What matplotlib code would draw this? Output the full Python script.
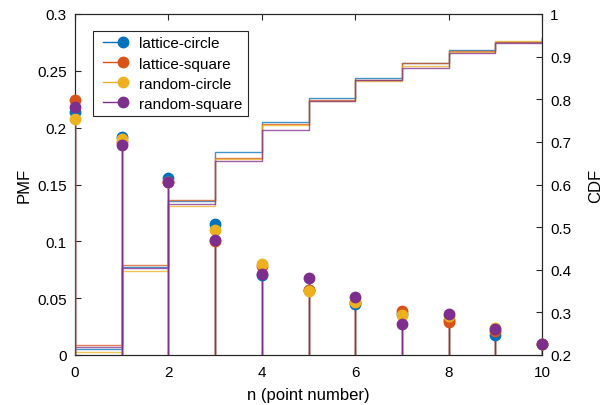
import numpy as np
import matplotlib
matplotlib.use("Agg")
import matplotlib.pyplot as plt
from matplotlib.legend_handler import HandlerLine2D

plt.rcParams['font.family'] = ['Liberation Sans', 'DejaVu Sans']

n = np.arange(0, 11)
names = ["lattice-circle", "lattice-square", "random-circle", "random-square"]
colors = ["#0072BD", "#D95319", "#EDB120", "#7E2F8E"]

pmf_lattice_circle = [0.214, 0.192, 0.156, 0.115, 0.070, 0.057, 0.045, 0.036, 0.031, 0.018, 0.010]
pmf_lattice_square = [0.224, 0.187, 0.152, 0.100, 0.078, 0.057, 0.047, 0.039, 0.029, 0.021, 0.010]
pmf_random_circle = [0.208, 0.190, 0.152, 0.110, 0.080, 0.056, 0.047, 0.035, 0.034, 0.024, 0.010]
pmf_random_square = [0.218, 0.185, 0.152, 0.101, 0.071, 0.068, 0.051, 0.027, 0.036, 0.023, 0.010]
pmfs = [pmf_lattice_circle, pmf_lattice_square, pmf_random_circle, pmf_random_square]


class StemHandler(HandlerLine2D):
    # legend entry: line with the marker only at its right end
    def create_artists(self, legend, orig_handle, xdescent, ydescent, width, height, fontsize, trans):
        artists = super().create_artists(legend, orig_handle, xdescent, ydescent,
                                          width, height, fontsize, trans)
        for a in artists:
            a.set_markevery([len(a.get_xdata()) - 1])
        return artists


fig = plt.figure(figsize=(6.07, 4.06), dpi=100)
ax = fig.add_axes([75 / 607, 50 / 406, 467 / 607, 341 / 406])
ax2 = ax.twinx()

# CDF as stairs on the right axis
for p, c in zip(pmfs, colors):
    ax2.step(n, np.cumsum(p), where='post', color=c, lw=1, alpha=0.75)

# PMF as stems on the left axis
handles = []
for p, c, name in zip(pmfs, colors, names):
    ax.vlines(n, 0, p, color=c, lw=1, zorder=3)
    ax.plot(n, p, 'o', color=c, ms=7.5, zorder=4, clip_on=False)
    h, = ax.plot([0, 1], [-1, -1], '-o', color=c, ms=7.5, lw=1, label=name)
    handles.append(h)

ax.set_zorder(ax2.get_zorder() + 1)
ax.patch.set_visible(False)

ax.set_xlim(0, 10)
ax.set_ylim(0, 0.3)
ax2.set_ylim(0.2, 1)
ax.set_xticks(range(0, 11, 2))
ax.set_yticks(np.arange(0, 0.31, 0.05))
ax.set_yticklabels(["0", "0.05", "0.1", "0.15", "0.2", "0.25", "0.3"])
ax2.set_yticks(np.arange(0.2, 1.01, 0.1))
ax2.set_yticklabels(["0.2", "0.3", "0.4", "0.5", "0.6", "0.7", "0.8", "0.9", "1"])

ax.tick_params(axis='x', direction='in', top=True, labelsize=11, length=4, pad=7, color='#262626')
ax.tick_params(axis='y', direction='in', labelsize=11, length=4, pad=6, color='#262626')
ax2.tick_params(axis='y', direction='in', labelsize=11, length=4, pad=6, color='#262626')
for a in (ax, ax2):
    for s in a.spines.values():
        s.set_color('#262626')
        s.set_linewidth(0.8)

ax.set_xlabel("n (point number)", fontsize=12, labelpad=6)
ax.set_ylabel("PMF", fontsize=12, labelpad=4)
ax2.set_ylabel("CDF", fontsize=12, labelpad=12)

leg = ax.legend(handles=handles, loc='upper left', bbox_to_anchor=(0.038, 0.95), fontsize=11,
                fancybox=False, edgecolor='#262626', framealpha=1, numpoints=2,
                handlelength=1.9, handletextpad=0.8, labelspacing=0.4,
                borderpad=0.35, borderaxespad=0,
                handler_map={h: StemHandler() for h in handles})
leg.get_frame().set_linewidth(0.8)

fig.savefig("out.png", dpi=100)
